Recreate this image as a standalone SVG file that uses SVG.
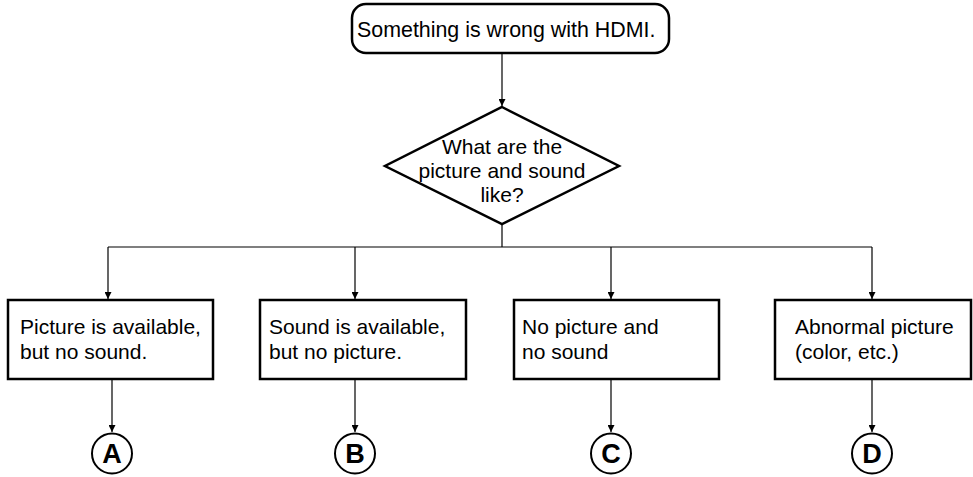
<svg xmlns="http://www.w3.org/2000/svg" width="973" height="477" viewBox="0 0 973 477">
<style>
  .node { fill: #fff; stroke: #000; stroke-width: 2.5; }
  .conn { fill: none; stroke: #000; stroke-width: 1.2; }
  .t { font-family: "Liberation Sans", Arial, Helvetica, sans-serif; font-size: 21px; fill: #000; }
  .lbl { font-family: "Liberation Sans", Arial, Helvetica, sans-serif; font-size: 27px; font-weight: bold; fill: #000; text-anchor: middle; }
  .circ { fill: #fff; stroke: #000; stroke-width: 2; }
</style>
<defs>
  <marker id="arr" viewBox="0 0 10 10" refX="10" refY="5" markerWidth="7" markerHeight="7" markerUnits="userSpaceOnUse" orient="auto">
    <path d="M0,0 L10,5 L0,10 z" fill="#000"/>
  </marker>
</defs>
<rect width="973" height="477" fill="#fff"/>

<g id="connectors">
  <line class="conn" x1="502" y1="54" x2="502" y2="106" marker-end="url(#arr)"/>
  <line class="conn" x1="502" y1="225" x2="502" y2="247"/>
  <line class="conn" x1="108" y1="247" x2="872" y2="247"/>
  <line class="conn" x1="108" y1="247" x2="108" y2="299" marker-end="url(#arr)"/>
  <line class="conn" x1="355" y1="247" x2="355" y2="299" marker-end="url(#arr)"/>
  <line class="conn" x1="611" y1="247" x2="611" y2="299" marker-end="url(#arr)"/>
  <line class="conn" x1="872" y1="247" x2="872" y2="299" marker-end="url(#arr)"/>
  <line class="conn" x1="112" y1="380" x2="112" y2="432" marker-end="url(#arr)"/>
  <line class="conn" x1="355" y1="380" x2="355" y2="432" marker-end="url(#arr)"/>
  <line class="conn" x1="611" y1="380" x2="611" y2="432" marker-end="url(#arr)"/>
  <line class="conn" x1="872" y1="380" x2="872" y2="432" marker-end="url(#arr)"/>
</g>

<g id="start">
  <rect class="node" x="352" y="4" width="317" height="49" rx="14" ry="14"/>
  <text class="t" x="357" y="37" style="font-size:21.4px">Something is wrong with HDMI.</text>
</g>

<g id="decision">
  <polygon class="node" points="502,107 619,166 502,224 385,166"/>
  <text class="t" x="502" y="154" text-anchor="middle">What are the</text>
  <text class="t" x="502" y="178" text-anchor="middle">picture and sound</text>
  <text class="t" x="502" y="202" text-anchor="middle">like?</text>
</g>

<g id="box1">
  <rect class="node" x="8" y="300" width="205" height="79"/>
  <text class="t" x="20" y="334">Picture is available,</text>
  <text class="t" x="20" y="359">but no sound.</text>
</g>
<g id="box2">
  <rect class="node" x="260" y="300" width="206" height="79"/>
  <text class="t" x="269" y="334">Sound is available,</text>
  <text class="t" x="269" y="359">but no picture.</text>
</g>
<g id="box3">
  <rect class="node" x="514" y="300" width="205" height="79"/>
  <text class="t" x="522" y="334">No picture and</text>
  <text class="t" x="522" y="359">no sound</text>
</g>
<g id="box4">
  <rect class="node" x="775" y="300" width="196" height="79"/>
  <text class="t" x="795" y="334">Abnormal picture</text>
  <text class="t" x="795" y="359">(color, etc.)</text>
</g>

<g id="A">
  <circle class="circ" cx="112" cy="453.5" r="20"/>
  <text class="lbl" x="112" y="463">A</text>
</g>
<g id="B">
  <circle class="circ" cx="355" cy="453.5" r="20"/>
  <text class="lbl" x="355" y="463">B</text>
</g>
<g id="C">
  <circle class="circ" cx="611" cy="453.5" r="20"/>
  <text class="lbl" x="611" y="463">C</text>
</g>
<g id="D">
  <circle class="circ" cx="872" cy="453.5" r="20"/>
  <text class="lbl" x="872" y="463">D</text>
</g>
</svg>
